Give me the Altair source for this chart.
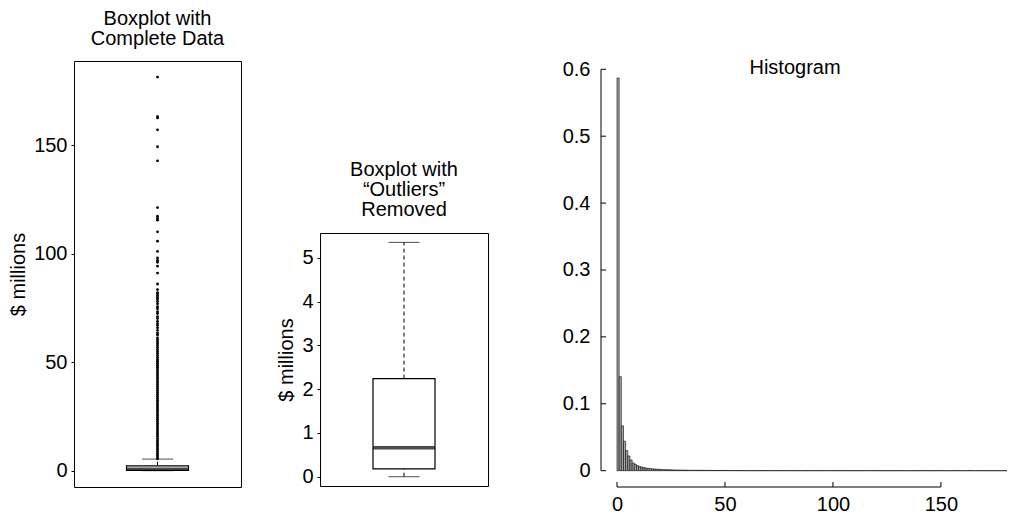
import altair as alt
import pandas as pd

FONT = "Liberation Sans"
FS = 20

# ---------------- data ----------------
# summary statistics ($ millions)
complete_lo, complete_q1, complete_med, complete_q3, complete_hi = 0.0, 0.18, 0.66, 2.25, 5.35
trimmed_lo, trimmed_q1, trimmed_med, trimmed_q3, trimmed_hi = 0.0, 0.18, 0.66, 2.24, 5.35

# outlying observations in the complete data
outliers = [
    5.5, 6.3, 7.1, 8.0, 8.8, 9.7, 10.5, 11.4, 12.2, 13.1, 14.0, 14.8, 15.7, 16.6,
    17.4, 18.3, 19.2, 20.1, 21.0, 21.8, 22.7, 23.6, 24.5, 25.4, 26.2, 27.1, 28.0,
    28.9, 29.8, 30.7, 31.6, 32.4, 33.3, 34.2, 35.1, 36.0, 36.9, 37.8, 38.7, 39.6,
    40.5, 41.4, 42.3, 43.2, 44.1, 45.0, 45.9, 46.8, 47.7, 48.6, 49.5, 50.4, 51.3,
    52.2, 53.1, 54.0, 54.9, 55.8, 56.7, 57.6, 58.5, 59.4, 60.3,
    61.2, 62.5, 63.4, 64.6, 65.8, 66.9, 67.7, 68.8, 70.1, 71.0, 72.4, 73.2, 74.6,
    75.5, 76.9, 78.0, 79.1, 79.8, 80.6, 81.4, 82.0,
    83.4, 86.0, 91.0, 94.2, 96.0, 96.9, 98.0, 101.0, 105.7, 110.0, 115.4, 116.2,
    117.2, 121.2,
    142.7, 149.2, 157.0, 162.5, 163.1, 181.3,
]

# histogram densities, bins of width 1 starting at 0
hist_density = [
    0.587, 0.1405, 0.067, 0.044, 0.030, 0.022, 0.016, 0.0115, 0.0095, 0.0075,
    0.0062, 0.0053, 0.0046, 0.0040, 0.0035, 0.0031, 0.0028, 0.0025, 0.0022, 0.0020,
    0.0018, 0.0016, 0.0015, 0.0014, 0.0013, 0.0012, 0.0011, 0.0010, 0.0010, 0.0009,
    0.0008, 0.0008, 0.0007, 0.0007, 0.0006, 0.0006, 0.0006, 0.0005, 0.0005, 0.0005,
    0.0004, 0.0004, 0.0004, 0.0004, 0.0003, 0.0003, 0.0003, 0.0003, 0.0003, 0.0002,
    0.0002, 0.0002, 0.0002, 0.0002, 0.0002, 0.0002, 0.0001, 0.0002, 0.0001, 0.0001,
    0.0001, 0.0001, 0.0001, 0.0001, 0.0001, 0.0001, 0.0001, 0.0001, 0.0001, 0.0001,
    0.0001, 0.0001, 0.0001, 0.0001, 0.0001, 0.0001, 0.0001, 0.0001, 0.0001, 0.0001,
    0.0001, 0.0001, 0.0, 0.0001, 0.0, 0.0, 0.0001, 0.0, 0.0, 0.0,
    0.0, 0.0001, 0.0, 0.0, 0.0001, 0.0, 0.0001, 0.0001, 0.0001, 0.0,
    0.0, 0.0001, 0.0, 0.0, 0.0, 0.0001, 0.0, 0.0, 0.0, 0.0,
    0.0001, 0.0, 0.0, 0.0, 0.0, 0.0001, 0.0001, 0.0001, 0.0, 0.0,
    0.0, 0.0001, 0.0, 0.0, 0.0, 0.0, 0.0, 0.0, 0.0, 0.0,
    0.0, 0.0, 0.0, 0.0, 0.0, 0.0, 0.0, 0.0, 0.0, 0.0,
    0.0, 0.0, 0.0001, 0.0, 0.0, 0.0, 0.0, 0.0, 0.0, 0.0001,
    0.0, 0.0, 0.0, 0.0, 0.0, 0.0, 0.0, 0.0001, 0.0, 0.0,
    0.0, 0.0, 0.0001, 0.0001, 0.0, 0.0, 0.0, 0.0, 0.0, 0.0,
    0.0, 0.0, 0.0, 0.0, 0.0, 0.0, 0.0, 0.0, 0.0, 0.0,
    0.0,
]

left_ticks = [0, 50, 100, 150]
mid_ticks = [0, 1, 2, 3, 4, 5]
hist_y_ticks = [0, 0.1, 0.2, 0.3, 0.4, 0.5, 0.6]
hist_x_ticks = [0, 50, 100, 150]

# ---------------- layout constants ----------------
BOX_W = 62
CAP_W = 31
LEFT_W, LEFT_H = 167, 426
MID_W, MID_H = 168, 253
HIST_W, HIST_H = 406, 426


def boxplot(lo, q1, med, q3, hi, pts, domain, ticks, title, width, height, title_offset):
    sdf = pd.DataFrame({"cat": ["a"], "lo": [lo], "q1": [q1], "med": [med], "q3": [q3], "hi": [hi]})
    base = alt.Chart(sdf)
    x = alt.X("cat:N", axis=None)
    ys = alt.Scale(domain=domain, nice=False, zero=False)
    ya = alt.Axis(values=ticks, domain=False, tickSize=3, tickColor="black", labelPadding=4,
                  title="$ millions", titlePadding=5, grid=False,
                  labelFont=FONT, labelFontSize=FS, labelColor="black",
                  titleFont=FONT, titleFontSize=FS, titleFontWeight="normal", titleColor="black")

    def Y(f):
        return alt.Y(f, scale=ys, axis=ya)

    layers = [
        base.mark_rule(color="black", strokeWidth=1, strokeDash=[4, 3]).encode(x=x, y=Y("q3:Q"), y2="hi:Q"),
        base.mark_rule(color="black", strokeWidth=1, strokeDash=[4, 3]).encode(x=x, y=Y("lo:Q"), y2="q1:Q"),
        base.mark_bar(size=BOX_W, fill="white", stroke="black", strokeWidth=1.2).encode(x=x, y=Y("q1:Q"), y2="q3:Q"),
        base.mark_tick(size=BOX_W, thickness=3.5, color="black").encode(x=x, y=Y("med:Q")),
        base.mark_tick(size=CAP_W, thickness=1, color="black").encode(x=x, y=Y("hi:Q")),
        base.mark_tick(size=CAP_W, thickness=1, color="black").encode(x=x, y=Y("lo:Q")),
    ]
    if pts:
        pdf = pd.DataFrame({"cat": ["a"] * len(pts), "v": pts})
        layers.append(
            alt.Chart(pdf).mark_circle(size=8, color="black", opacity=1)
            .encode(x=x, y=Y("v:Q"))
        )
    return alt.layer(*layers).properties(
        width=width, height=height,
        title=alt.TitleParams(text=title, fontSize=FS, font=FONT, fontWeight="normal", lineHeight=20,
                              anchor="middle", offset=title_offset, color="black"),
        view=alt.ViewBackground(stroke="black", strokeWidth=1),
    )


left = boxplot(complete_lo, complete_q1, complete_med, complete_q3, complete_hi, outliers,
               [-7.51, 188.7], left_ticks, ["Boxplot with", "Complete Data"], LEFT_W, LEFT_H, 12)
middle = boxplot(trimmed_lo, trimmed_q1, trimmed_med, trimmed_q3, trimmed_hi, [],
                 [-0.212, 5.564], mid_ticks, ["Boxplot with", "\u201cOutliers\u201d", "Removed"], MID_W, MID_H, 13)

spacer = alt.Chart(pd.DataFrame({"v": [0]})).mark_point(opacity=0).encode(
    x=alt.value(0), y=alt.value(0)
).properties(width=MID_W, height=60, view=alt.ViewBackground(stroke=None))

mid_col = alt.vconcat(spacer, middle, spacing=38)

# ---------------- histogram ----------------
bins = list(range(len(hist_density)))
hdf = pd.DataFrame({"start": bins, "end": [b + 1 for b in bins], "density": hist_density})
xs = alt.Scale(domain=[-7.41, 180.6], nice=False, zero=False)
ys = alt.Scale(domain=[-0.0244, 0.6124], nice=False, zero=False)
common = dict(labelFont=FONT, labelFontSize=FS, labelColor="black", grid=False, domain=False, ticks=False,
              title=None)
xa = alt.Axis(values=hist_x_ticks, labelPadding=7, **common)
ya = alt.Axis(values=hist_y_ticks, minExtent=78, labelPadding=11,
              labelExpr="datum.value == 0 ? '0' : format(datum.value, '.1f')", **common)

bars = alt.Chart(hdf).mark_rect(fill="#a8a8a8", stroke="black", strokeWidth=0.6, clip=True).encode(
    x=alt.X("start:Q", scale=xs, axis=xa),
    x2="end:Q",
    y=alt.Y("density:Q", scale=ys, axis=ya),
    y2=alt.datum(0),
)

yline_df = pd.DataFrame({"a": [hist_y_ticks[0]], "b": [hist_y_ticks[-1]]})
yline = alt.Chart(yline_df).mark_rule(color="black", strokeWidth=1).encode(
    x=alt.value(0), y=alt.Y("a:Q", scale=ys, axis=ya), y2="b:Q"
)
ytick = alt.Chart(pd.DataFrame({"t": hist_y_ticks})).mark_rule(color="black", strokeWidth=1).encode(
    x=alt.value(0), x2=alt.value(5), y=alt.Y("t:Q", scale=ys, axis=ya)
)
xline_df = pd.DataFrame({"a": [hist_x_ticks[0]], "b": [hist_x_ticks[-1]]})
xline = alt.Chart(xline_df).mark_rule(color="black", strokeWidth=1).encode(
    x=alt.X("a:Q", scale=xs, axis=xa), x2="b:Q", y=alt.value(HIST_H)
)
xtick = alt.Chart(pd.DataFrame({"t": hist_x_ticks})).mark_rule(color="black", strokeWidth=1).encode(
    x=alt.X("t:Q", scale=xs, axis=xa), y=alt.value(HIST_H), y2=alt.value(HIST_H - 5)
)

hist = alt.layer(bars, yline, ytick, xline, xtick).properties(
    width=HIST_W, height=HIST_H,
    title=alt.TitleParams(text="Histogram", fontSize=FS, font=FONT, fontWeight="normal",
                          anchor="middle", offset=-13, dx=-9, dy=22, baseline="alphabetic", color="black"),
    view=alt.ViewBackground(stroke=None),
)

chart = alt.hconcat(left, mid_col, hist, spacing=34).properties(
    padding=0, background="white"
).configure_view(stroke=None)

chart.save("out.html", embed_options={"renderer": "svg", "actions": False})
